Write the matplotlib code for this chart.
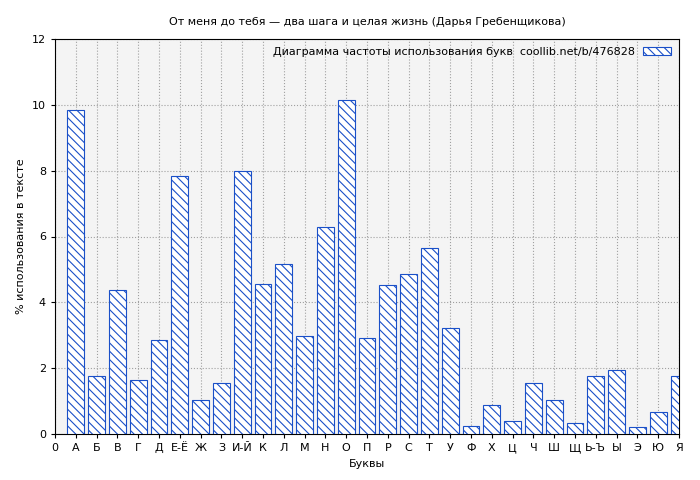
import matplotlib
matplotlib.use("Agg")
import matplotlib.pyplot as plt

labels = ["0","А","Б","В","Г","Д","Е-Ё","Ж","З","И-Й","К","Л","М","Н","О","П","Р","С","Т","У","Ф","Х","Ц","Ч","Ш","Щ","Ь-Ъ","Ы","Э","Ю","Я"]
letters = labels[1:]
values = [9.85,1.76,4.38,1.64,2.86,7.84,1.03,1.55,8.0,4.56,5.17,2.98,6.29,10.15,2.92,4.53,4.86,5.65,3.22,0.24,0.88,0.4,1.55,1.03,0.33,1.76,1.95,0.21,0.67,1.76]

plt.rcParams['font.family'] = ['DejaVu Sans']
plt.rcParams['hatch.color'] = '#1a50c8'
plt.rcParams['hatch.linewidth'] = 0.8
fig = plt.figure(figsize=(7, 4.8), dpi=100)
ax = fig.add_axes([55/700, 46/480, 624/700, 395/480])
ax.set_facecolor('#f4f4f4')
pos = list(range(1, len(values) + 1))
ax.bar(pos, values, width=0.8, facecolor='white', edgecolor='#1a50c8', hatch='\\\\\\\\', linewidth=0.8,
       label='Диаграмма частоты использования букв  coollib.net/b/476828', zorder=3)
ax.set_xlim(0, 29)
ax.set_ylim(0, 12)
ax.set_xticks(range(len(labels)))
ax.set_xticklabels(labels, fontsize=8)
ax.set_yticks(range(0, 13, 2))
ax.tick_params(labelsize=8, length=3)
ax.grid(True, color='#a0a0a0', linestyle=':', linewidth=0.8, zorder=0)
ax.set_xlabel('Буквы', fontsize=8)
ax.set_ylabel('% использования в тексте', fontsize=8)
ax.set_title('От меня до тебя — два шага и целая жизнь (Дарья Гребенщикова)', fontsize=8, pad=10)
ax.legend(loc='upper right', fontsize=8, frameon=False, markerfirst=False, handlelength=2.5, borderaxespad=0.3)
fig.savefig('out.png', dpi=100)
